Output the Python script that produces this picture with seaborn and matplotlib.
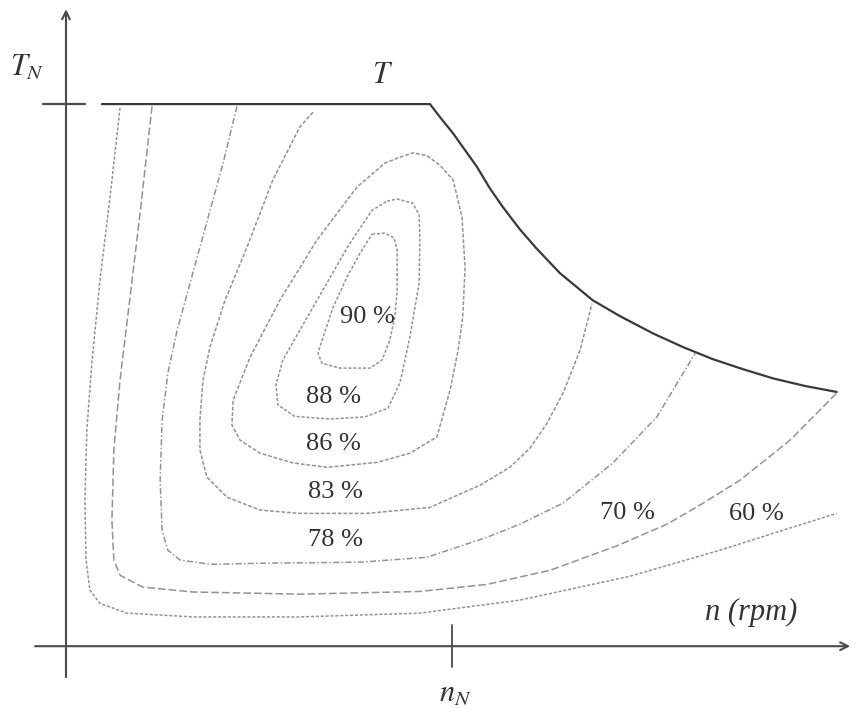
import matplotlib
matplotlib.use("Agg")
import matplotlib.pyplot as plt
import seaborn as sns
import pandas as pd

# ---------------- data (per-unit: n / n_N , T / T_N) ----------------
# torque / power envelope
env_n = [0.093, 0.943, 0.969, 1.003, 1.028, 1.065, 1.098, 1.132, 1.176, 1.220, 1.280,
         1.365, 1.435, 1.521, 1.598, 1.674, 1.754, 1.832, 1.915, 1.997]
env_t = [1.000, 1.000, 0.976, 0.946, 0.921, 0.884, 0.845, 0.810, 0.769, 0.733, 0.688,
         0.638, 0.609, 0.577, 0.552, 0.530, 0.511, 0.494, 0.480, 0.469]

# efficiency iso-contours
n90 = [0.793, 0.826, 0.850, 0.858, 0.858, 0.852, 0.839, 0.819, 0.788, 0.710, 0.663, 0.653, 0.666, 0.692, 0.728, 0.762, 0.793]
t90 = [0.760, 0.762, 0.753, 0.731, 0.657, 0.607, 0.565, 0.528, 0.513, 0.513, 0.522, 0.541, 0.570, 0.625, 0.681, 0.725, 0.760]

n88 = [0.832, 0.858, 0.899, 0.915, 0.917, 0.915, 0.891, 0.865, 0.834, 0.775, 0.684, 0.593, 0.549, 0.544, 0.562, 0.606, 0.676, 0.736, 0.793, 0.832]
t88 = [0.821, 0.825, 0.817, 0.795, 0.749, 0.670, 0.570, 0.485, 0.439, 0.423, 0.419, 0.424, 0.445, 0.482, 0.528, 0.583, 0.670, 0.744, 0.804, 0.821]

n86 = [0.865, 0.899, 0.935, 0.969, 1.003, 1.026, 1.034, 1.028, 1.016, 0.995, 0.961, 0.891, 0.806, 0.676, 0.588, 0.503, 0.451, 0.430, 0.433, 0.477, 0.554, 0.650, 0.754, 0.826, 0.865]
t86 = [0.902, 0.910, 0.905, 0.887, 0.860, 0.792, 0.699, 0.607, 0.546, 0.472, 0.386, 0.356, 0.339, 0.330, 0.338, 0.356, 0.380, 0.408, 0.454, 0.533, 0.638, 0.749, 0.847, 0.891, 0.902]

n83 = [0.640, 0.606, 0.536, 0.469, 0.412, 0.373, 0.355, 0.347, 0.347, 0.365, 0.417, 0.503, 0.606, 0.780, 0.943, 1.003, 1.073, 1.150, 1.202, 1.246, 1.288, 1.332, 1.363]
t83 = [0.985, 0.958, 0.860, 0.736, 0.638, 0.552, 0.491, 0.417, 0.362, 0.312, 0.275, 0.251, 0.245, 0.245, 0.256, 0.275, 0.297, 0.330, 0.365, 0.411, 0.467, 0.546, 0.632]

n78 = [0.443, 0.407, 0.347, 0.288, 0.264, 0.249, 0.244, 0.249, 0.264, 0.295, 0.373, 0.503, 0.762, 0.935, 1.091, 1.176, 1.288, 1.417, 1.531, 1.630]
t78 = [0.996, 0.891, 0.736, 0.583, 0.504, 0.417, 0.306, 0.214, 0.177, 0.159, 0.151, 0.153, 0.155, 0.164, 0.201, 0.225, 0.264, 0.338, 0.423, 0.540]

n70 = [0.223, 0.192, 0.166, 0.140, 0.124, 0.119, 0.124, 0.140, 0.199, 0.329, 0.606, 0.917, 1.091, 1.254, 1.427, 1.557, 1.642, 1.746, 1.876, 1.997]
t70 = [0.996, 0.799, 0.644, 0.491, 0.362, 0.232, 0.159, 0.131, 0.109, 0.100, 0.096, 0.101, 0.114, 0.140, 0.185, 0.225, 0.260, 0.306, 0.380, 0.467]

n60 = [0.140, 0.114, 0.088, 0.067, 0.054, 0.049, 0.052, 0.062, 0.088, 0.158, 0.329, 0.606, 0.917, 1.176, 1.461, 1.694, 1.876, 1.997]
t60 = [0.993, 0.828, 0.675, 0.522, 0.399, 0.269, 0.159, 0.103, 0.079, 0.061, 0.054, 0.054, 0.061, 0.085, 0.129, 0.177, 0.218, 0.245]

levels = ["90 %", "88 %", "86 %", "83 %", "78 %", "70 %", "60 %"]
label_n = [0.782, 0.694, 0.694, 0.697, 0.699, 1.456, 1.788]
label_t = [0.607, 0.459, 0.373, 0.284, 0.196, 0.245, 0.244]

# ---------------- figure ----------------
sns.set_theme(style="white")
plt.rcParams["font.family"] = ["Liberation Serif", "DejaVu Serif"]
plt.rcParams["mathtext.fontset"] = "stix"

fig = plt.figure(figsize=(8.51, 7.08), dpi=100)
ax = fig.add_axes([0, 0, 1, 1])
ax.set_xlim(-0.171, 2.034)
ax.set_ylim(-0.114, 1.192)
ax.axis("off")

curves = [(n90, t90), (n88, t88), (n86, t86), (n83, t83), (n78, t78), (n70, t70), (n60, t60)]
dashes = [(2, 1.2), (2, 1.2), (2.5, 1.2), (2.5, 1.2), (4, 1.5, 1, 1.5), (5, 2), (2, 1.2)]
for (xs, ys), lev, ds in zip(curves, levels, dashes):
    df = pd.DataFrame({"n": xs, "T": ys})
    sns.lineplot(data=df, x="n", y="T", sort=False, estimator=None, ax=ax,
                 color="#939393", lw=1.1)
    ln = ax.lines[-1]
    ln.set_dashes(ds)
    ln.set_dash_joinstyle("round")

env = pd.DataFrame({"n": env_n, "T": env_t})
sns.lineplot(data=env, x="n", y="T", sort=False, estimator=None, ax=ax,
             color="#3a3a3a", lw=1.6)
ax.lines[-1].set_solid_joinstyle("round")

# axes with arrows
ax.annotate("", xy=(2.032, 0), xytext=(-0.080, 0),
            arrowprops=dict(arrowstyle="->", lw=1.5, color="#4a4a4a",
                            shrinkA=0, shrinkB=0, mutation_scale=14))
ax.annotate("", xy=(0, 1.175), xytext=(0, -0.057),
            arrowprops=dict(arrowstyle="->", lw=1.5, color="#4a4a4a",
                            shrinkA=0, shrinkB=0, mutation_scale=14))
# ticks for T_N and n_N
ax.plot([-0.060, 0.049], [1.0, 1.0], color="#4a4a4a", lw=1.6)
ax.plot([1.0, 1.0], [-0.039, 0.039], color="#4a4a4a", lw=1.3)

# percent labels
for lab, x, y in zip(levels, label_n, label_t):
    ax.text(x, y, lab, ha="center", va="center", fontsize=19, color="#333333")

ax.text(0.821, 1.052, "$T$", ha="center", va="center", fontsize=22, color="#333333")
ax.text(-0.100, 1.066, "$T_N$", ha="center", va="center", fontsize=22, color="#333333")
ax.text(1.008, -0.088, "$n_N$", ha="center", va="center", fontsize=22, color="#333333")
ax.text(1.775, 0.063, "n (rpm)", ha="center", va="center", fontsize=22,
        style="italic", color="#333333")

fig.savefig("out.png", dpi=100, facecolor="white")
